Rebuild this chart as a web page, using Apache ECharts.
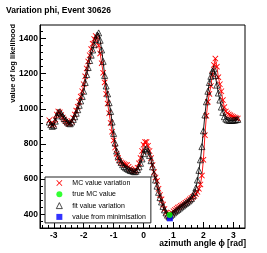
<!DOCTYPE html>
<html>
<head>
<meta charset="utf-8">
<script src="https://cdn.jsdelivr.net/npm/echarts@6/dist/echarts.min.js"></script>
<style>html,body{margin:0;padding:0;background:#fff}#c{width:267px;height:253px}</style>
</head>
<body>
<div id="c"></div>
<script>
const titleText = 'Variation phi, Event 30626';
const xTitle = 'azimuth angle \u03D5 [rad]';
const yTitle = 'value of log likelihood';
const legendNames = ['MC value variation', 'true MC value', 'fit value variation', 'value from minimisation'];

const phiValues = [-3.15,-3.10,-3.05,-3.00,-2.95,-2.90,-2.85,-2.80,-2.75,-2.70,-2.65,-2.60,-2.55,-2.50,-2.45,-2.40,-2.35,-2.30,-2.25,-2.20,-2.15,-2.10,-2.05,-2.00,-1.95,-1.90,-1.85,-1.80,-1.75,-1.70,-1.65,-1.60,-1.55,-1.50,-1.45,-1.40,-1.35,-1.30,-1.25,-1.20,-1.15,-1.10,-1.05,-1.00,-0.95,-0.90,-0.85,-0.80,-0.75,-0.70,-0.65,-0.60,-0.55,-0.50,-0.45,-0.40,-0.35,-0.30,-0.25,-0.20,-0.15,-0.10,-0.05,0.00,0.05,0.10,0.15,0.20,0.25,0.30,0.35,0.40,0.45,0.50,0.55,0.60,0.65,0.70,0.75,0.80,0.85,0.90,0.95,1.00,1.05,1.10,1.15,1.20,1.25,1.30,1.35,1.40,1.45,1.50,1.55,1.60,1.65,1.70,1.75,1.80,1.85,1.90,1.95,2.00,2.05,2.10,2.15,2.20,2.25,2.30,2.35,2.40,2.45,2.50,2.55,2.60,2.65,2.70,2.75,2.80,2.85,2.90,2.95,3.00,3.05,3.10,3.15];

const mcValues = [935,915,905,912,940,968,985,980,965,950,940,930,922,915,918,930,948,968,990,1012,1040,1070,1100,1140,1185,1230,1270,1305,1340,1370,1398,1415,1405,1360,1315,1260,1205,1150,1085,1030,975,920,870,820,780,745,720,705,695,690,685,682,680,670,660,655,648,645,650,665,690,720,760,795,812,812,790,760,720,680,640,610,590,545,510,485,455,430,410,398,392,400,408,418,425,432,438,443,448,453,458,465,472,478,485,492,498,505,515,528,545,570,620,710,850,960,1040,1085,1130,1195,1250,1286,1240,1180,1140,1100,1050,1010,985,975,968,963,958,954,950,947,945];

const fitValues = [925,910,900,905,930,960,980,983,972,958,945,935,925,918,915,925,940,955,975,995,1020,1045,1070,1100,1150,1195,1235,1275,1305,1335,1365,1395,1420,1432,1390,1335,1270,1190,1130,1085,1035,985,925,860,805,760,730,710,695,682,672,665,660,655,650,648,645,642,645,655,670,690,715,745,770,775,760,735,705,670,630,595,560,525,495,470,445,425,408,395,385,392,400,408,415,422,428,435,442,448,455,462,468,475,482,490,505,525,550,595,650,710,785,875,965,1040,1100,1150,1185,1215,1228,1190,1135,1090,1050,1010,980,955,942,937,935,934,934,935,936,938,940];

const trueMcPhi = [0.87];
const trueMcValue = [396];
const minimisationPhi = [0.88];
const minimisationValue = [377];

const xMajorTicks = [-3,-2,-1,0,1,2,3];
const xMinorTicks = [-3.4,-3.2,-3.0,-2.8,-2.6,-2.4,-2.2,-2.0,-1.8,-1.6,-1.4,-1.2,-1.0,-0.8,-0.6,-0.4,-0.2,0,0.2,0.4,0.6,0.8,1.0,1.2,1.4,1.6,1.8,2.0,2.2,2.4,2.6,2.8,3.0,3.2];
const yMajorTicks = [400,600,800,1000,1200,1400];
const yMinorTicks = [360,400,440,480,520,560,600,640,680,720,760,800,840,880,920,960,1000,1040,1080,1120,1160,1200,1240,1280,1320,1360,1400,1440];

const FONT = 'Liberation Sans';
const xMin = -3.46, xMax = 3.39, yMin = 322, yMax = 1477;
const crossPath = 'path://M0,1L1,0L5,4L9,0L10,1L6,5L10,9L9,10L5,6L1,10L0,9L4,5Z';

const chart = echarts.init(document.getElementById('c'), null, {renderer: 'canvas'});
const pairs = (xs, ys) => xs.map((x, i) => [x, ys[i]]);
const plain = v => String(v);

chart.setOption({
  animation: false,
  backgroundColor: '#fff',
  title: {
    text: titleText, left: 6, top: 6, padding: 0,
    textStyle: {fontFamily: FONT, fontSize: 8.5, fontWeight: 'bold', color: '#000'}
  },
  grid: {left: 40, top: 25, width: 205, height: 203, show: true, borderColor: '#000', borderWidth: 1,
         backgroundColor: 'transparent', containLabel: false, outerBoundsMode: 'none'},
  graphic: [
    {type: 'text', x: 246, y: 239, silent: true,
     style: {text: xTitle, align: 'right', verticalAlign: 'top', fontFamily: FONT, fontSize: 8.5, fontWeight: 'bold', fill: '#000'}},
    {type: 'text', x: 13, y: 24, rotation: Math.PI / 2, silent: true,
     style: {text: yTitle, align: 'right', verticalAlign: 'middle', fontFamily: FONT, fontSize: 7.5, fontWeight: 'bold', fill: '#000'}}
  ],
  xAxis: [
    {
      type: 'value', min: xMin, max: xMax,
      axisLine: {show: true, onZero: false, lineStyle: {color: '#000', width: 1}},
      axisTick: {show: true, inside: true, length: 6, customValues: xMajorTicks, lineStyle: {color: '#000', width: 1}},
      axisLabel: {show: true, customValues: xMajorTicks, formatter: plain, margin: 3, fontFamily: FONT, fontSize: 8.5, fontWeight: 'bold', color: '#000'},
      splitLine: {show: false}
    },
    {
      type: 'value', min: xMin, max: xMax, position: 'bottom',
      axisLine: {show: false, onZero: false},
      axisTick: {show: true, inside: true, length: 3, customValues: xMinorTicks, lineStyle: {color: '#000', width: 1}},
      axisLabel: {show: false},
      splitLine: {show: false}
    }
  ],
  yAxis: [
    {
      type: 'value', min: yMin, max: yMax,
      axisLine: {show: true, onZero: false, lineStyle: {color: '#000', width: 1}},
      axisTick: {show: true, inside: true, length: 6, customValues: yMajorTicks, lineStyle: {color: '#000', width: 1}},
      axisLabel: {show: true, customValues: yMajorTicks, formatter: plain, margin: 2, fontFamily: FONT, fontSize: 8.5, fontWeight: 'bold', color: '#000'},
      splitLine: {show: false}
    },
    {
      type: 'value', min: yMin, max: yMax, position: 'left',
      axisLine: {show: false, onZero: false},
      axisTick: {show: true, inside: true, length: 3, customValues: yMinorTicks, lineStyle: {color: '#000', width: 1}},
      axisLabel: {show: false},
      splitLine: {show: false}
    }
  ],
  legend: {
    orient: 'vertical', left: 45, top: 177, selectedMode: false,
    padding: [2, 5, 2, 11],
    itemWidth: 6, itemHeight: 6, itemGap: 3.3,
    backgroundColor: '#fff', borderColor: '#222', borderWidth: 1, borderRadius: 0,
    textStyle: {fontFamily: FONT, fontSize: 7, color: '#000', lineHeight: 8, padding: [0, 0, 0, 5]},
    data: [
      {name: legendNames[0], icon: crossPath},
      {name: legendNames[1], icon: 'circle'},
      {name: legendNames[2], icon: 'triangle', itemStyle: {color: 'rgba(255,255,255,0)', borderColor: '#000', borderWidth: 0.7}},
      {name: legendNames[3], icon: 'rect'}
    ]
  },
  series: [
    {
      name: legendNames[0], type: 'line', xAxisIndex: 0, yAxisIndex: 0,
      data: pairs(phiValues, mcValues),
      symbol: crossPath, symbolSize: 6,
      itemStyle: {color: '#ff0000', borderWidth: 0},
      lineStyle: {color: '#ff0000', width: 0.9},
      z: 2
    },
    {
      name: legendNames[2], type: 'line', xAxisIndex: 0, yAxisIndex: 0,
      data: pairs(phiValues, fitValues),
      symbol: 'triangle', symbolSize: 6,
      itemStyle: {color: 'rgba(255,255,255,0)', borderColor: '#000', borderWidth: 0.7},
      lineStyle: {color: '#000', width: 0.9},
      z: 3
    },
    {
      name: legendNames[3], type: 'scatter', xAxisIndex: 0, yAxisIndex: 0,
      data: pairs(minimisationPhi, minimisationValue),
      symbol: 'rect', symbolSize: 6,
      itemStyle: {color: '#0000ff'},
      z: 4
    },
    {
      name: legendNames[1], type: 'scatter', xAxisIndex: 0, yAxisIndex: 0,
      data: pairs(trueMcPhi, trueMcValue),
      symbol: 'circle', symbolSize: 6,
      itemStyle: {color: '#00ff00'},
      z: 5
    }
  ]
});
</script>
</body>
</html>
